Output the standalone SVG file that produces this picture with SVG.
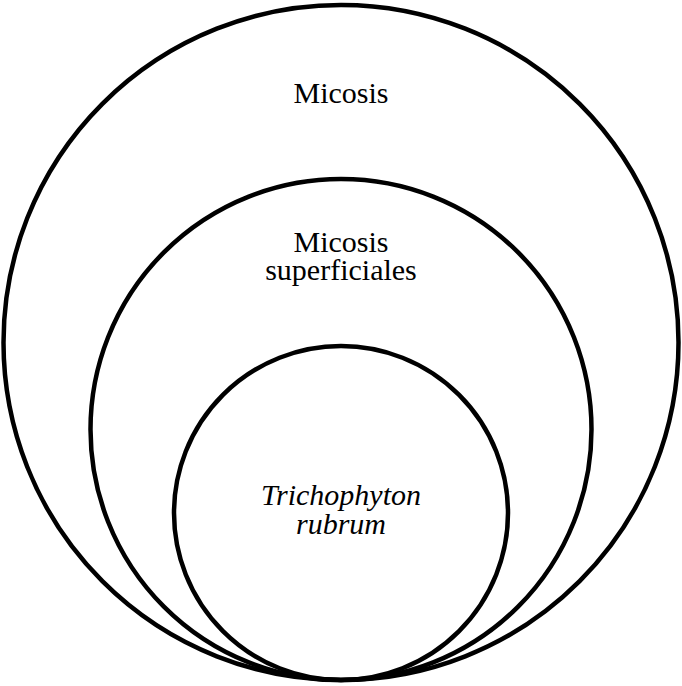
<svg xmlns="http://www.w3.org/2000/svg" width="682" height="686" viewBox="0 0 682 686">
<style>
.c{fill:none;stroke:#000;stroke-width:4.5}
.t{font-family:"Liberation Serif",serif;font-size:30px;fill:#000;text-anchor:middle}
.i{font-style:italic}
</style>
<rect width="682" height="686" fill="#fff"/>
<g id="micosis">
<circle class="c" cx="341" cy="342.5" r="337.5"/>
<text class="t" x="341" y="103">Micosis</text>
</g>
<g id="micosis-superficiales">
<circle class="c" cx="341" cy="429.5" r="250.5"/>
<text class="t" x="341" y="252">Micosis</text>
<text class="t" x="341" y="280">superficiales</text>
</g>
<g id="trichophyton-rubrum">
<circle class="c" cx="341" cy="513" r="167"/>
<text class="t i" x="341" y="505">Trichophyton</text>
<text class="t i" x="341" y="534">rubrum</text>
</g>
<g id="connectors"/>
</svg>
